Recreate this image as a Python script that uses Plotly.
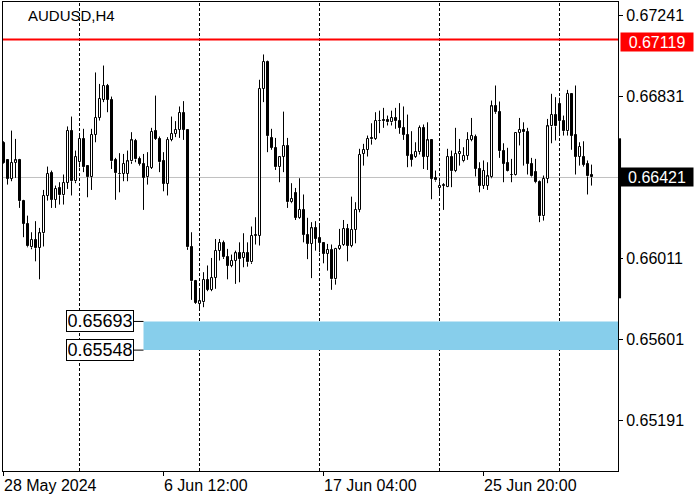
import plotly.graph_objects as go

symbol = "AUDUSD,H4"

opens = [
    0.66594, 0.66507, 0.66414, 0.66496, 0.66507, 0.66301, 0.66186, 0.66068, 0.66105, 0.66065,
    0.66139, 0.66328, 0.66446, 0.66308, 0.66368, 0.66331, 0.66394, 0.66658, 0.66402, 0.66498,
    0.66616, 0.66478, 0.66422, 0.66636, 0.66722, 0.66813, 0.66886, 0.66813, 0.66507, 0.66439,
    0.66439, 0.66439, 0.66502, 0.66604, 0.66515, 0.66490, 0.66422, 0.66470, 0.66658, 0.66616,
    0.66502, 0.66389, 0.66611, 0.66642, 0.66662, 0.66749, 0.66662, 0.66068, 0.65900, 0.65782,
    0.65790, 0.65903, 0.65853, 0.65913, 0.66051, 0.66090, 0.66018, 0.65974, 0.66001, 0.66041,
    0.66014, 0.66041, 0.65992, 0.66126, 0.66126, 0.66869, 0.67007, 0.66621, 0.66571, 0.66473,
    0.66527, 0.66581, 0.66296, 0.66343, 0.66217, 0.66257, 0.66131, 0.66085, 0.66164, 0.66114,
    0.66090, 0.66035, 0.66055, 0.65906, 0.66060, 0.66082, 0.66161, 0.66075, 0.66156, 0.66257,
    0.66540, 0.66561, 0.66621, 0.66616, 0.66709, 0.66714, 0.66714, 0.66700, 0.66722, 0.66709,
    0.66672, 0.66636, 0.66537, 0.66527, 0.66549, 0.66672, 0.66527, 0.66608, 0.66417, 0.66368,
    0.66379, 0.66375, 0.66527, 0.66453, 0.66540, 0.66503, 0.66532, 0.66611, 0.66628, 0.66464,
    0.66380, 0.66380, 0.66422, 0.66780, 0.66754, 0.66557, 0.66493, 0.66436, 0.66436, 0.66647,
    0.66663, 0.66653, 0.66490, 0.66451, 0.66400, 0.66225, 0.66414, 0.66679, 0.66739, 0.66793,
    0.66706, 0.66655, 0.66844, 0.66638, 0.66527, 0.66524, 0.66490, 0.66431,
]
highs = [
    0.66604, 0.66510, 0.66658, 0.66616, 0.66515, 0.66308, 0.66228, 0.66144, 0.66200, 0.66166,
    0.66358, 0.66476, 0.66456, 0.66380, 0.66397, 0.66436, 0.66679, 0.66729, 0.66557, 0.66642,
    0.66667, 0.66481, 0.66667, 0.66952, 0.66894, 0.66987, 0.66894, 0.66830, 0.66520, 0.66544,
    0.66540, 0.66557, 0.66650, 0.66616, 0.66527, 0.66540, 0.66549, 0.66672, 0.66835, 0.66628,
    0.66549, 0.66625, 0.66729, 0.66706, 0.66780, 0.66807, 0.66665, 0.66144, 0.65903, 0.65849,
    0.65942, 0.65976, 0.66014, 0.66110, 0.66110, 0.66102, 0.66060, 0.66031, 0.66051, 0.66093,
    0.66139, 0.66093, 0.66173, 0.66220, 0.66915, 0.67043, 0.67012, 0.66667, 0.66621, 0.66527,
    0.66754, 0.66621, 0.66392, 0.66368, 0.66417, 0.66335, 0.66217, 0.66195, 0.66200, 0.66183,
    0.66093, 0.66085, 0.66082, 0.66065, 0.66161, 0.66206, 0.66186, 0.66324, 0.66296, 0.66566,
    0.66591, 0.66633, 0.66695, 0.66751, 0.66759, 0.66773, 0.66734, 0.66759, 0.66773, 0.66797,
    0.66780, 0.66739, 0.66655, 0.66599, 0.66684, 0.66689, 0.66700, 0.66611, 0.66456, 0.66402,
    0.66392, 0.66566, 0.66557, 0.66672, 0.66616, 0.66574, 0.66650, 0.66722, 0.66638, 0.66498,
    0.66507, 0.66498, 0.66810, 0.66886, 0.66805, 0.66594, 0.66571, 0.66515, 0.66650, 0.66722,
    0.66700, 0.66672, 0.66520, 0.66515, 0.66406, 0.66431, 0.66717, 0.66844, 0.66827, 0.66824,
    0.66734, 0.66864, 0.66847, 0.66886, 0.66599, 0.66604, 0.66507, 0.66486,
]
lows = [
    0.66490, 0.66385, 0.66402, 0.66419, 0.66267, 0.66119, 0.66068, 0.66058, 0.65997, 0.65906,
    0.66072, 0.66304, 0.66267, 0.66267, 0.66284, 0.66284, 0.66363, 0.66330, 0.66392, 0.66473,
    0.66448, 0.66321, 0.66358, 0.66599, 0.66709, 0.66802, 0.66751, 0.66464, 0.66308, 0.66346,
    0.66402, 0.66402, 0.66490, 0.66498, 0.66481, 0.66257, 0.66385, 0.66464, 0.66611, 0.66448,
    0.66351, 0.66330, 0.66604, 0.66625, 0.66621, 0.66611, 0.66055, 0.65802, 0.65782, 0.65751,
    0.65765, 0.65846, 0.65846, 0.65858, 0.66001, 0.66009, 0.65906, 0.65967, 0.65883, 0.65891,
    0.65967, 0.65970, 0.65984, 0.66082, 0.66077, 0.66802, 0.66549, 0.66561, 0.66459, 0.66397,
    0.66448, 0.66267, 0.66291, 0.66206, 0.66212, 0.66093, 0.66008, 0.65912, 0.66051, 0.66043,
    0.65987, 0.65950, 0.65853, 0.65879, 0.66055, 0.66075, 0.65997, 0.66068, 0.66088, 0.66245,
    0.66481, 0.66527, 0.66587, 0.66611, 0.66645, 0.66672, 0.66684, 0.66684, 0.66667, 0.66642,
    0.66611, 0.66473, 0.66476, 0.66520, 0.66537, 0.66464, 0.66459, 0.66311, 0.66400, 0.66328,
    0.66257, 0.66372, 0.66372, 0.66448, 0.66481, 0.66498, 0.66510, 0.66604, 0.66426, 0.66346,
    0.66363, 0.66358, 0.66417, 0.66743, 0.66520, 0.66397, 0.66451, 0.66397, 0.66431, 0.66583,
    0.66481, 0.66436, 0.66422, 0.66392, 0.66195, 0.66203, 0.66392, 0.66594, 0.66608, 0.66645,
    0.66633, 0.66633, 0.66561, 0.66436, 0.66481, 0.66476, 0.66335, 0.66380,
]
closes = [
    0.66493, 0.66414, 0.66495, 0.66507, 0.66301, 0.66186, 0.66073, 0.66105, 0.66063, 0.66139,
    0.66328, 0.66439, 0.66308, 0.66363, 0.66331, 0.66394, 0.66658, 0.66402, 0.66524, 0.66616,
    0.66473, 0.66422, 0.66636, 0.66722, 0.66819, 0.66886, 0.66813, 0.66503, 0.66443, 0.66437,
    0.66490, 0.66502, 0.66608, 0.66512, 0.66490, 0.66419, 0.66476, 0.66653, 0.66616, 0.66498,
    0.66389, 0.66611, 0.66642, 0.66662, 0.66749, 0.66662, 0.66068, 0.65896, 0.65787, 0.65795,
    0.65903, 0.65853, 0.65913, 0.66051, 0.66090, 0.66018, 0.65974, 0.66001, 0.66038, 0.66008,
    0.66041, 0.65992, 0.66127, 0.66129, 0.66869, 0.67007, 0.66630, 0.66571, 0.66473, 0.66524,
    0.66581, 0.66296, 0.66313, 0.66217, 0.66257, 0.66131, 0.66085, 0.66164, 0.66110, 0.66090,
    0.66035, 0.66055, 0.65906, 0.66060, 0.66075, 0.66161, 0.66075, 0.66156, 0.66257, 0.66535,
    0.66562, 0.66616, 0.66614, 0.66709, 0.66706, 0.66706, 0.66700, 0.66722, 0.66706, 0.66672,
    0.66636, 0.66532, 0.66510, 0.66552, 0.66672, 0.66527, 0.66608, 0.66414, 0.66406, 0.66380,
    0.66380, 0.66527, 0.66453, 0.66540, 0.66552, 0.66532, 0.66611, 0.66633, 0.66464, 0.66380,
    0.66456, 0.66426, 0.66780, 0.66751, 0.66554, 0.66490, 0.66453, 0.66434, 0.66648, 0.66663,
    0.66650, 0.66490, 0.66426, 0.66397, 0.66225, 0.66414, 0.66679, 0.66739, 0.66679, 0.66706,
    0.66655, 0.66844, 0.66633, 0.66527, 0.66577, 0.66486, 0.66426, 0.66421,
]

# time axis (bar index of H4 candles)
x_tick_bars = [0, 40, 80, 120]
x_tick_labels = ["28 May 2024", "6 Jun 12:00", "17 Jun 04:00", "25 Jun 20:00"]
week_sep_bars = [19, 49, 79, 109, 139]

# price axis
y_ticks = [0.65191, 0.65601, 0.66011, 0.66421, 0.66831, 0.67241]
current_price = 0.66421
red_level = 0.67119
zone_high = 0.65693
zone_low = 0.65548
zone_start_bar = 35
axis_bar_low = 0.65810
axis_bar_high = 0.66619

x_range = [-0.125, 153.625]
y_range = [0.649367, 0.673083]

n = len(opens)
idx = list(range(n))
bull = [i for i in idx if closes[i] >= opens[i]]
bear = [i for i in idx if closes[i] < opens[i]]
MIN_BODY = 0.00002


def bodies(sel):
    base = [min(opens[i], closes[i]) for i in sel]
    hgt = [max(abs(closes[i] - opens[i]), MIN_BODY) for i in sel]
    return base, hgt


wx, wy = [], []
for i in idx:
    top = max(opens[i], closes[i])
    bot = min(opens[i], closes[i])
    if highs[i] > top:
        wx += [i, i, None]
        wy += [top, highs[i], None]
    if lows[i] < bot:
        wx += [i, i, None]
        wy += [bot, lows[i], None]

fig = go.Figure()
fig.add_trace(go.Scatter(x=wx, y=wy, mode="lines", line=dict(color="black", width=1),
                         hoverinfo="skip", showlegend=False))
bb, bh = bodies(bull)
fig.add_trace(go.Bar(x=bull, base=bb, y=bh, width=0.5,
                     marker=dict(color="white", line=dict(color="black", width=1)),
                     showlegend=False))
rb, rh = bodies(bear)
fig.add_trace(go.Bar(x=bear, base=rb, y=rh, width=0.5,
                     marker=dict(color="black", line=dict(color="black", width=1)),
                     showlegend=False))

shapes = []
# support zone
shapes.append(dict(type="rect", xref="x", yref="y", x0=zone_start_bar, x1=x_range[1],
                   y0=zone_low, y1=zone_high, fillcolor="#87CEEB", line=dict(width=0), layer="below"))
# current price line
shapes.append(dict(type="line", xref="paper", yref="y", x0=0, x1=1, y0=current_price, y1=current_price,
                   line=dict(color="#c0c0c0", width=1), layer="below"))
# week separators
for b in week_sep_bars:
    shapes.append(dict(type="line", xref="x", yref="paper", x0=b, x1=b, y0=0, y1=1,
                       line=dict(color="black", width=1, dash="3px,2px"), layer="below"))
# red horizontal level
shapes.append(dict(type="line", xref="paper", yref="y", x0=0, x1=1, y0=red_level, y1=red_level,
                   line=dict(color="#ff0000", width=2)))
# connectors to zone labels
for lv in (zone_high, zone_low):
    shapes.append(dict(type="line", xref="x", yref="y", xsizemode="pixel", xanchor=zone_start_bar,
                       x0=-10, x1=0, y0=lv, y1=lv, line=dict(color="black", width=1)))
# thick bar on price scale
shapes.append(dict(type="line", xref="paper", yref="y", x0=1.0025, x1=1.0025,
                   y0=axis_bar_low, y1=axis_bar_high, line=dict(color="black", width=3)))

FONT = "Liberation Sans, Arial, sans-serif"
annotations = []
annotations.append(dict(text=symbol, xref="paper", yref="paper", x=0, y=1, xanchor="left",
                        yanchor="middle", xshift=23, yshift=-13, showarrow=False,
                        font=dict(family=FONT, size=15, color="black")))
for b, lab in zip(x_tick_bars, x_tick_labels):
    annotations.append(dict(text=lab, xref="x", yref="paper", x=b, y=0, xanchor="left",
                            yanchor="middle", xshift=-2, yshift=-14, showarrow=False,
                            font=dict(family=FONT, size=16, color="black")))
annotations.append(dict(text=f"{current_price:.5f}", xref="paper", yref="y", x=1, y=current_price,
                        xanchor="left", yanchor="middle", xshift=2, showarrow=False,
                        bgcolor="black", width=70, height=16, borderpad=1, align="center",
                        font=dict(family=FONT, size=16, color="white")))
annotations.append(dict(text=f"{red_level:.5f}", xref="paper", yref="y", x=1, y=red_level,
                        xanchor="left", yanchor="middle", xshift=2, yshift=-3, showarrow=False,
                        bgcolor="#ff0000", width=70, height=16, borderpad=1, align="center",
                        font=dict(family=FONT, size=16, color="white")))
for lv in (zone_high, zone_low):
    annotations.append(dict(text=f"{lv:.5f}", xref="x", yref="y", x=zone_start_bar, y=lv,
                            xanchor="right", yanchor="middle", xshift=-10, showarrow=False,
                            bgcolor="white", bordercolor="black", borderwidth=1, borderpad=1,
                            width=64, height=18, align="center",
                            font=dict(family=FONT, size=18, color="black")))

# the current-price tick is labelled by the black price box instead
y_ticktext = ["" if abs(v - current_price) < 1e-9 else f"{v:.5f}" for v in y_ticks]

fig.update_layout(
    width=700, height=500,
    margin=dict(l=3, r=82, t=2, b=29, pad=0),
    paper_bgcolor="white", plot_bgcolor="white",
    barmode="overlay", bargap=0, showlegend=False,
    font=dict(family=FONT, size=16, color="black"),
    xaxis=dict(range=x_range, showgrid=False, zeroline=False, showline=True, linecolor="black",
               linewidth=1, mirror=True, ticks="outside", ticklen=4, tickcolor="black",
               tickvals=x_tick_bars, showticklabels=False, fixedrange=True),
    yaxis=dict(range=y_range, side="right", showgrid=False, zeroline=False, showline=True,
               linecolor="black", linewidth=1, mirror=True, ticks="outside", ticklen=4,
               tickcolor="black", tickvals=y_ticks, ticktext=y_ticktext,
               tickfont=dict(family=FONT, size=16, color="black"), fixedrange=True),
    shapes=shapes,
    annotations=annotations,
)

fig.write_html("out.html", config={"displayModeBar": False},
               post_script="document.body.style.margin='0';")
